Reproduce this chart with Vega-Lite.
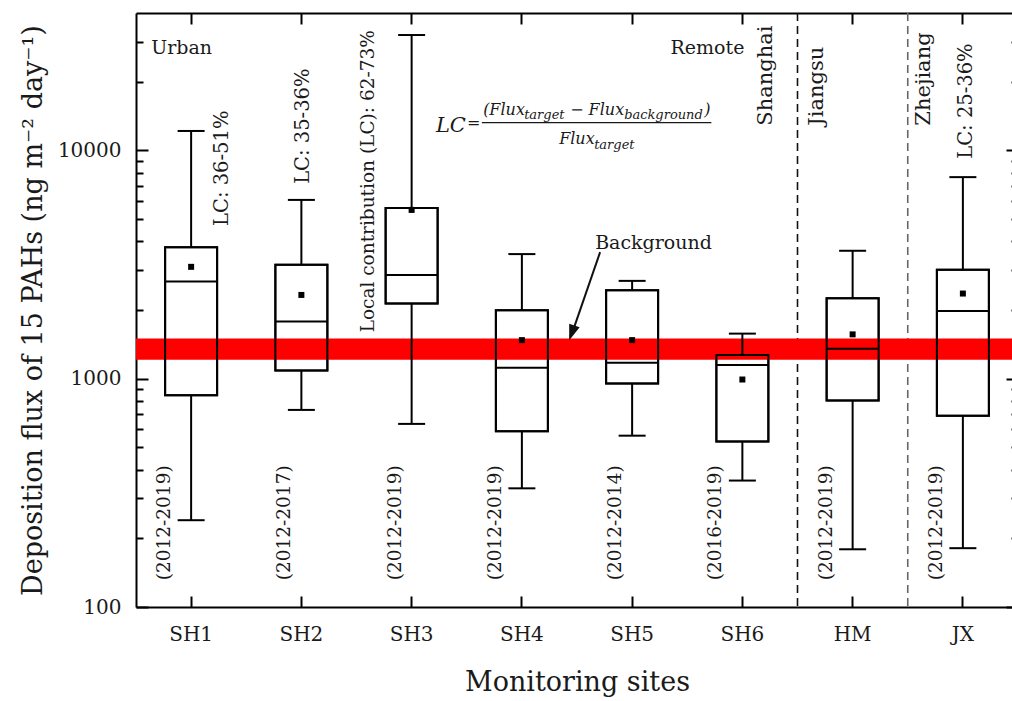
{
  "$schema": "https://vega.github.io/schema/vega-lite/v6.json",
  "width": 882,
  "height": 594,
  "autosize": {"type": "pad"},
  "padding": {"left": 19, "top": 12, "right": 0, "bottom": 5},
  "background": "white",
  "config": {"view": {"stroke": null}, "font": "DejaVu Serif"},
  "datasets": {
    "boxes": [
      {"site": "SH1", "lower": 240, "q1": 846, "median": 2667, "q3": 3762, "upper": 12170, "mean": 3091, "period": "(2012-2019)"},
      {"site": "SH2", "lower": 730, "q1": 1087, "median": 1779, "q3": 3154, "upper": 6071, "mean": 2328, "period": "(2012-2017)"},
      {"site": "SH3", "lower": 634, "q1": 2134, "median": 2850, "q3": 5600, "upper": 32030, "mean": 5488, "period": "(2012-2019)"},
      {"site": "SH4", "lower": 331, "q1": 588, "median": 1117, "q3": 1994, "upper": 3515, "mean": 1476, "period": "(2012-2019)"},
      {"site": "SH5", "lower": 563, "q1": 952, "median": 1175, "q3": 2442, "upper": 2683, "mean": 1476, "period": "(2012-2014)"},
      {"site": "SH6", "lower": 358, "q1": 531, "median": 1147, "q3": 1269, "upper": 1576, "mean": 992, "period": "(2016-2019)"},
      {"site": "HM", "lower": 179, "q1": 802, "median": 1353, "q3": 2252, "upper": 3635, "mean": 1564, "period": "(2012-2019)"},
      {"site": "JX", "lower": 181, "q1": 689, "median": 1980, "q3": 3000, "upper": 7640, "mean": 2361, "period": "(2012-2019)"}
    ],
    "one": [{}]
  },
  "resolve": {"axis": {"x": "independent", "y": "independent"}},
  "layer": [
    {
      "data": {"name": "boxes"},
      "mark": {"type": "bar", "size": 52, "fill": "transparent", "stroke": "black", "strokeWidth": 2},
      "encoding": {
        "x": {
          "field": "site", "type": "nominal",
          "scale": {"type": "band", "domain": ["SH1","SH2","SH3","SH4","SH5","SH6","HM","JX"], "paddingInner": 0, "paddingOuter": 0},
          "axis": {
            "orient": "bottom", "title": "Monitoring sites", "bandPosition": 0.5,
            "labelAngle": 0, "labelFont": "DejaVu Serif", "labelFontSize": 20, "labelColor": "#1a1a1a",
            "labelPadding": 28, "tickSize": -11, "tickWidth": 2, "tickColor": "black",
            "domainColor": "black", "domainWidth": 2, "grid": false,
            "titleFont": "DejaVu Serif", "titleFontSize": 27, "titleFontWeight": "normal", "titleColor": "#1a1a1a", "titlePadding": 25
          }
        },
        "y": {
          "field": "q1", "type": "quantitative",
          "scale": {"type": "log", "domain": [100, 40000], "nice": false},
          "axis": {
            "orient": "left", "title": "Deposition flux of 15 PAHs (ng m⁻² day⁻¹)",
            "values": [100,200,300,400,500,600,700,800,900,1000,2000,3000,4000,5000,6000,7000,8000,9000,10000,20000,30000],
            "format": "d",
            "labelExpr": "datum.value == 100 || datum.value == 1000 || datum.value == 10000 ? datum.label : ''",
            "labelOverlap": false,
            "tickSize": {"condition": {"test": "datum.value == 100 || datum.value == 1000 || datum.value == 10000", "value": -12}, "value": -7},
            "tickWidth": 2, "tickColor": "black",
            "labelPadding": 27, "labelFont": "DejaVu Serif", "labelFontSize": 20, "labelColor": "#1a1a1a",
            "domainColor": "black", "domainWidth": 2, "grid": false,
            "titleFont": "DejaVu Serif", "titleFontSize": 27, "titleFontWeight": "normal", "titleColor": "#1a1a1a", "titlePadding": 10
          }
        },
        "y2": {"field": "q3"}
      }
    },
    {
      "data": {"values": [{"site": "HM"}, {"site": "JX"}]},
      "mark": {"type": "rule", "strokeDash": [8, 5], "strokeWidth": 1.6},
      "encoding": {
        "x": {"field": "site", "type": "nominal", "bandPosition": 0, "axis": null, "scale": {"type": "band", "domain": ["SH1","SH2","SH3","SH4","SH5","SH6","HM","JX"], "paddingInner": 0, "paddingOuter": 0}},
        "color": {"condition": {"test": "datum.site === 'JX'", "value": "#666666"}, "value": "#111111"}
      }
    },
    {
      "data": {"values": [{"low": 1210, "high": 1500}]},
      "mark": {"type": "rect", "color": "#ff0000"},
      "encoding": {
        "y": {"field": "low", "type": "quantitative", "axis": null, "scale": {"type": "log", "domain": [100, 40000], "nice": false}},
        "y2": {"field": "high"}
      }
    },
    {
      "data": {"name": "boxes"},
      "mark": {"type": "bar", "size": 52, "fill": "transparent", "stroke": "black", "strokeWidth": 2},
      "encoding": {
        "x": {"field": "site", "type": "nominal", "axis": null, "scale": {"type": "band", "domain": ["SH1","SH2","SH3","SH4","SH5","SH6","HM","JX"], "paddingInner": 0, "paddingOuter": 0}},
        "y": {"field": "q1", "type": "quantitative", "axis": null, "scale": {"type": "log", "domain": [100, 40000], "nice": false}},
        "y2": {"field": "q3"}
      }
    },
    {
      "data": {"name": "boxes"},
      "mark": {"type": "rule", "color": "black", "strokeWidth": 2},
      "encoding": {
        "x": {"field": "site", "type": "nominal", "axis": null, "scale": {"type": "band", "domain": ["SH1","SH2","SH3","SH4","SH5","SH6","HM","JX"], "paddingInner": 0, "paddingOuter": 0}},
        "y": {"field": "lower", "type": "quantitative", "axis": null, "scale": {"type": "log", "domain": [100, 40000], "nice": false}},
        "y2": {"field": "q1"}
      }
    },
    {
      "data": {"name": "boxes"},
      "mark": {"type": "rule", "color": "black", "strokeWidth": 2},
      "encoding": {
        "x": {"field": "site", "type": "nominal", "axis": null, "scale": {"type": "band", "domain": ["SH1","SH2","SH3","SH4","SH5","SH6","HM","JX"], "paddingInner": 0, "paddingOuter": 0}},
        "y": {"field": "q3", "type": "quantitative", "axis": null, "scale": {"type": "log", "domain": [100, 40000], "nice": false}},
        "y2": {"field": "upper"}
      }
    },
    {
      "data": {"name": "boxes"},
      "mark": {"type": "tick", "color": "black", "size": 27, "thickness": 2, "opacity": 1},
      "encoding": {
        "x": {"field": "site", "type": "nominal", "axis": null, "scale": {"type": "band", "domain": ["SH1","SH2","SH3","SH4","SH5","SH6","HM","JX"], "paddingInner": 0, "paddingOuter": 0}},
        "y": {"field": "lower", "type": "quantitative", "axis": null, "scale": {"type": "log", "domain": [100, 40000], "nice": false}}
      }
    },
    {
      "data": {"name": "boxes"},
      "mark": {"type": "tick", "color": "black", "size": 27, "thickness": 2, "opacity": 1},
      "encoding": {
        "x": {"field": "site", "type": "nominal", "axis": null, "scale": {"type": "band", "domain": ["SH1","SH2","SH3","SH4","SH5","SH6","HM","JX"], "paddingInner": 0, "paddingOuter": 0}},
        "y": {"field": "upper", "type": "quantitative", "axis": null, "scale": {"type": "log", "domain": [100, 40000], "nice": false}}
      }
    },
    {
      "data": {"name": "boxes"},
      "mark": {"type": "tick", "color": "black", "size": 52, "thickness": 2, "opacity": 1},
      "encoding": {
        "x": {"field": "site", "type": "nominal", "axis": null, "scale": {"type": "band", "domain": ["SH1","SH2","SH3","SH4","SH5","SH6","HM","JX"], "paddingInner": 0, "paddingOuter": 0}},
        "y": {"field": "median", "type": "quantitative", "axis": null, "scale": {"type": "log", "domain": [100, 40000], "nice": false}}
      }
    },
    {
      "data": {"name": "boxes"},
      "transform": [{"filter": "indexof(['SH2','SH3','SH5'], datum.site) < 0"}],
      "mark": {"type": "text", "font": "DejaVu Serif", "fontSize": 18.5, "color": "#1a1a1a", "angle": 270, "align": "left", "baseline": "middle", "xOffset": -27},
      "encoding": {
        "x": {"field": "site", "type": "nominal", "axis": null},
        "y": {"datum": 131, "type": "quantitative", "axis": null},
        "text": {"field": "period"}
      }
    },
    {
      "data": {"name": "boxes"},
      "transform": [{"filter": "indexof(['SH2','SH3','SH5'], datum.site) >= 0"}],
      "mark": {"type": "text", "font": "DejaVu Serif", "fontSize": 18.5, "color": "#1a1a1a", "angle": 270, "align": "left", "baseline": "middle", "xOffset": -17},
      "encoding": {
        "x": {"field": "site", "type": "nominal", "axis": null},
        "y": {"datum": 131, "type": "quantitative", "axis": null},
        "text": {"field": "period"}
      }
    },
    {
      "data": {"name": "one"},
      "mark": {"type": "text", "text": "Urban", "font": "DejaVu Serif", "fontSize": 19, "color": "#1a1a1a", "align": "left", "baseline": "alphabetic", "xOffset": -40},
      "encoding": {"x": {"datum": "SH1", "type": "nominal", "axis": null}, "y": {"datum": 26350, "type": "quantitative", "axis": null}}
    },
    {
      "data": {"name": "one"},
      "mark": {"type": "text", "text": "Remote", "font": "DejaVu Serif", "fontSize": 19, "color": "#1a1a1a", "align": "right", "baseline": "alphabetic", "xOffset": 2},
      "encoding": {"x": {"datum": "SH6", "type": "nominal", "axis": null}, "y": {"datum": 26350, "type": "quantitative", "axis": null}}
    },
    {
      "data": {"name": "one"},
      "mark": {"type": "text", "text": "Background", "font": "DejaVu Serif", "fontSize": 19, "color": "#1a1a1a", "align": "left", "baseline": "alphabetic", "xOffset": -37},
      "encoding": {"x": {"datum": "SH5", "type": "nominal", "axis": null}, "y": {"datum": 3698, "type": "quantitative", "axis": null}}
    },
    {
      "data": {"name": "one"},
      "mark": {"type": "text", "text": "LC: 36-51%", "font": "DejaVu Serif", "fontSize": 19.5, "color": "#1a1a1a", "angle": 270, "align": "left", "baseline": "middle", "xOffset": 31},
      "encoding": {"x": {"datum": "SH1", "type": "nominal", "axis": null}, "y": {"datum": 4670, "type": "quantitative", "axis": null}}
    },
    {
      "data": {"name": "one"},
      "mark": {"type": "text", "text": "LC: 35-36%", "font": "DejaVu Serif", "fontSize": 19.5, "color": "#1a1a1a", "angle": 270, "align": "left", "baseline": "middle", "xOffset": 2},
      "encoding": {"x": {"datum": "SH2", "type": "nominal", "axis": null}, "y": {"datum": 7140, "type": "quantitative", "axis": null}}
    },
    {
      "data": {"name": "one"},
      "mark": {"type": "text", "text": "Local contribution (LC): 62-73%", "font": "DejaVu Serif", "fontSize": 18.5, "color": "#1a1a1a", "angle": 270, "align": "left", "baseline": "middle", "xOffset": -44},
      "encoding": {"x": {"datum": "SH3", "type": "nominal", "axis": null}, "y": {"datum": 1596, "type": "quantitative", "axis": null}}
    },
    {
      "data": {"name": "one"},
      "mark": {"type": "text", "text": "LC: 25-36%", "font": "DejaVu Serif", "fontSize": 19.5, "color": "#1a1a1a", "angle": 270, "align": "left", "baseline": "middle", "xOffset": 3},
      "encoding": {"x": {"datum": "JX", "type": "nominal", "axis": null}, "y": {"datum": 9195, "type": "quantitative", "axis": null}}
    },
    {
      "data": {"name": "one"},
      "mark": {"type": "text", "text": "Shanghai", "font": "DejaVu Serif", "fontSize": 21, "color": "#1a1a1a", "angle": 270, "align": "left", "baseline": "middle", "xOffset": 24},
      "encoding": {"x": {"datum": "SH6", "type": "nominal", "axis": null}, "y": {"datum": 12840, "type": "quantitative", "axis": null}}
    },
    {
      "data": {"name": "one"},
      "mark": {"type": "text", "text": "Jiangsu", "font": "DejaVu Serif", "fontSize": 21, "color": "#1a1a1a", "angle": 270, "align": "left", "baseline": "middle", "xOffset": -36},
      "encoding": {"x": {"datum": "HM", "type": "nominal", "axis": null}, "y": {"datum": 12840, "type": "quantitative", "axis": null}}
    },
    {
      "data": {"name": "one"},
      "mark": {"type": "text", "text": "Zhejiang", "font": "DejaVu Serif", "fontSize": 21, "color": "#1a1a1a", "angle": 270, "align": "left", "baseline": "middle", "xOffset": -39},
      "encoding": {"x": {"datum": "JX", "type": "nominal", "axis": null}, "y": {"datum": 12840, "type": "quantitative", "axis": null}}
    },
    {
      "data": {"name": "one"},
      "mark": {"type": "text", "text": "LC", "font": "DejaVu Serif", "fontStyle": "italic", "fontSize": 21, "color": "#1a1a1a", "align": "left", "baseline": "alphabetic", "xOffset": -86},
      "encoding": {"x": {"datum": "SH4", "type": "nominal", "axis": null}, "y": {"datum": 12080, "type": "quantitative", "axis": null}}
    },
    {
      "data": {"name": "one"},
      "mark": {"type": "text", "text": "=", "font": "DejaVu Serif", "fontSize": 16, "color": "#1a1a1a", "align": "left", "baseline": "alphabetic", "xOffset": -55},
      "encoding": {"x": {"datum": "SH4", "type": "nominal", "axis": null}, "y": {"datum": 12580, "type": "quantitative", "axis": null}}
    },
    {
      "data": {"name": "one"},
      "mark": {"type": "text", "text": "(Flux", "font": "DejaVu Serif", "fontStyle": "italic", "fontSize": 16, "color": "#1a1a1a", "align": "left", "baseline": "alphabetic", "xOffset": -149},
      "encoding": {"x": {"datum": "SH5", "type": "nominal", "axis": null}, "y": {"datum": 14350, "type": "quantitative", "axis": null}}
    },
    {
      "data": {"name": "one"},
      "mark": {"type": "text", "text": "target", "font": "DejaVu Serif", "fontStyle": "italic", "fontSize": 13, "color": "#1a1a1a", "align": "left", "baseline": "alphabetic", "xOffset": -108},
      "encoding": {"x": {"datum": "SH5", "type": "nominal", "axis": null}, "y": {"datum": 13780, "type": "quantitative", "axis": null}}
    },
    {
      "data": {"name": "one"},
      "mark": {"type": "text", "text": "− Flux", "font": "DejaVu Serif", "fontStyle": "italic", "fontSize": 16, "color": "#1a1a1a", "align": "left", "baseline": "alphabetic", "xOffset": -62},
      "encoding": {"x": {"datum": "SH5", "type": "nominal", "axis": null}, "y": {"datum": 14350, "type": "quantitative", "axis": null}}
    },
    {
      "data": {"name": "one"},
      "mark": {"type": "text", "text": "background", "font": "DejaVu Serif", "fontStyle": "italic", "fontSize": 13, "color": "#1a1a1a", "align": "left", "baseline": "alphabetic", "xOffset": -8},
      "encoding": {"x": {"datum": "SH5", "type": "nominal", "axis": null}, "y": {"datum": 13780, "type": "quantitative", "axis": null}}
    },
    {
      "data": {"name": "one"},
      "mark": {"type": "text", "text": ")", "font": "DejaVu Serif", "fontStyle": "italic", "fontSize": 16, "color": "#1a1a1a", "align": "left", "baseline": "alphabetic", "xOffset": 72},
      "encoding": {"x": {"datum": "SH5", "type": "nominal", "axis": null}, "y": {"datum": 14350, "type": "quantitative", "axis": null}}
    },
    {
      "data": {"name": "one"},
      "mark": {"type": "text", "text": "Flux", "font": "DejaVu Serif", "fontStyle": "italic", "fontSize": 16, "color": "#1a1a1a", "align": "left", "baseline": "alphabetic", "xOffset": -73},
      "encoding": {"x": {"datum": "SH5", "type": "nominal", "axis": null}, "y": {"datum": 10700, "type": "quantitative", "axis": null}}
    },
    {
      "data": {"name": "one"},
      "mark": {"type": "text", "text": "target", "font": "DejaVu Serif", "fontStyle": "italic", "fontSize": 13, "color": "#1a1a1a", "align": "left", "baseline": "alphabetic", "xOffset": -38},
      "encoding": {"x": {"datum": "SH5", "type": "nominal", "axis": null}, "y": {"datum": 10170, "type": "quantitative", "axis": null}}
    },
    {
      "data": {"name": "one"},
      "mark": {"type": "rule", "color": "#1a1a1a", "strokeWidth": 1.3, "xOffset": -40, "x2Offset": -31},
      "encoding": {
        "x": {"datum": "SH4", "type": "nominal", "axis": null},
        "x2": {"datum": "SH6"},
        "y": {"datum": 13240, "type": "quantitative", "axis": null}
      }
    },
    {
      "data": {"name": "one"},
      "mark": {"type": "rule", "color": "#111111", "strokeWidth": 2, "xOffset": -32, "x2Offset": -58},
      "encoding": {
        "x": {"datum": "SH5", "type": "nominal", "axis": null},
        "x2": {"datum": "SH5"},
        "y": {"datum": 3587, "type": "quantitative", "axis": null},
        "y2": {"datum": 1679}
      }
    },
    {
      "data": {"name": "one"},
      "mark": {"type": "point", "shape": "M0,0L-0.35,-1L0.35,-1Z", "filled": true, "size": 1000, "angle": 19.6, "color": "#111111", "opacity": 1, "xOffset": -63},
      "encoding": {
        "x": {"datum": "SH5", "type": "nominal", "axis": null},
        "y": {"datum": 1472, "type": "quantitative", "axis": null}
      }
    },
    {
      "data": {"name": "boxes"},
      "mark": {"type": "point", "shape": "square", "filled": true, "size": 36, "color": "black", "opacity": 1},
      "encoding": {
        "x": {
          "field": "site", "type": "nominal",
          "scale": {"type": "band", "domain": ["SH1","SH2","SH3","SH4","SH5","SH6","HM","JX"], "paddingInner": 0, "paddingOuter": 0},
          "axis": {"orient": "top", "labels": false, "title": null, "bandPosition": 0.5, "tickSize": -11, "tickWidth": 2, "tickColor": "black", "domainColor": "black", "domainWidth": 2, "grid": false}
        },
        "y": {
          "field": "mean", "type": "quantitative",
          "scale": {"type": "log", "domain": [100, 40000], "nice": false},
          "axis": {
            "orient": "right", "labels": false, "title": null,
            "values": [100,200,300,400,500,600,700,800,900,1000,2000,3000,4000,5000,6000,7000,8000,9000,10000,20000,30000],
            "tickSize": {"condition": {"test": "datum.value == 100 || datum.value == 1000 || datum.value == 10000", "value": -12}, "value": -7},
            "tickWidth": 2, "tickColor": "black", "domainColor": "black", "domainWidth": 2, "grid": false
          }
        }
      }
    }
  ]
}
